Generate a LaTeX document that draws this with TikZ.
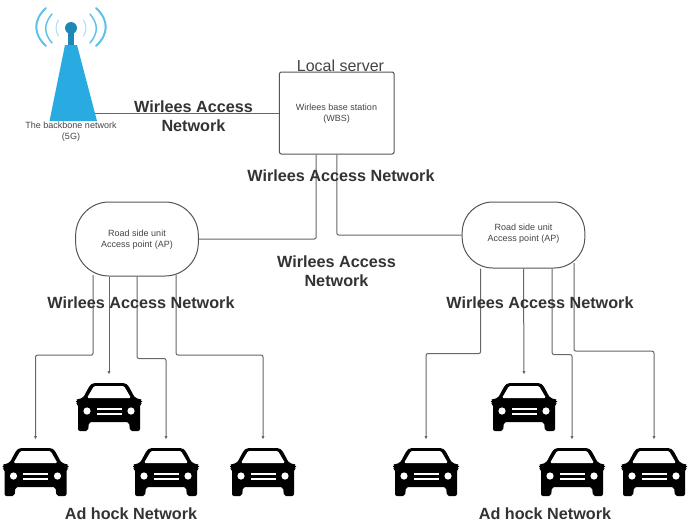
\documentclass[tikz,border=0pt]{standalone}
\usepackage{fontspec}
\setmainfont{Liberation Sans}
\usetikzlibrary{arrows.meta}
\definecolor{towerblue}{RGB}{41, 171, 226}
\definecolor{mastblue}{RGB}{31, 135, 181}
\definecolor{wavelight}{RGB}{170, 220, 243}
\definecolor{linkgray}{RGB}{102, 102, 102}
\definecolor{boxgray}{RGB}{85, 85, 85}
\definecolor{textgray}{RGB}{68, 68, 68}
\definecolor{labelgray}{RGB}{51, 51, 51}
\tikzset{
    smalltext/.style={text=textgray, align=center, inner sep=0pt, font=\fontsize{6.75}{8.3}\selectfont},
    netlabel/.style={text=labelgray, align=center, inner sep=0pt, font=\fontsize{12.15}{14.4}\selectfont\bfseries},
    apbox/.style={draw=boxgray, line width=0.75pt, fill=white, rectangle, minimum width=92pt, inner sep=0pt},
    link/.style={draw=linkgray, line width=0.75pt, rounded corners=1.5pt},
    linkto/.style={link, -{Latex[length=2.4pt,width=2.4pt]}, shorten >=6pt},
    carbox/.style={rectangle, minimum width=50pt, minimum height=36.5pt, inner sep=0pt, path picture={
        \begin{scope}[shift={(path picture bounding box.center)}]
            \fill[black, rounded corners=1.5pt] (-31,-8) -- (-26,-9) -- (-19,-22) -- (-16,-24) -- (16,-24) -- (19,-22) -- (26,-9) -- (31,-8)
                -- (33,-7) -- (33,-4) -- (31,-3) -- (31,24) -- (21,24) -- (20,15) -- (-20,15) -- (-21,24) -- (-31,24) -- (-31,-3) -- (-33,-4) -- (-33,-7) -- cycle;
            \fill[white, rounded corners=1pt] (-22,-9) -- (-15,-21) -- (15,-21) -- (22,-9) -- cycle;
            \fill[white] (-22,4) circle (3.6);
            \fill[white] (22,4) circle (3.6);
            \fill[white] (-12.5,0.5) rectangle (12.5,3);
            \fill[white] (-12.5,5.5) rectangle (12.5,8);
        \end{scope}}},
}

\begin{document}
\begin{tikzpicture}[x=0.75pt, y=-0.75pt]
    \useasboundingbox (0,0) rectangle (688,525);

    \node[draw=boxgray, line width=0.75pt, rectangle, rounded corners=1.5pt, fill=white, minimum width=86pt, minimum height=61.5pt, inner sep=0pt] (server) at (336.75,113) {};
    \node[smalltext] (servertext) at (336.5,114) {Wirlees base station\\(WBS)};
    \node[text=textgray, inner sep=0pt, font=\fontsize{12}{14}\selectfont] (serverlabel) at (340.5,66) {Local server};

    \node[apbox, rounded corners=25pt, minimum height=55.5pt] (apLeft) at (137,239) {};
    \node[apbox, rounded corners=23pt, minimum height=49.5pt] (apRight) at (523.5,235) {};
    \node[smalltext] at (137,239.5) {Road side unit\\Access point (AP)};
    \node[smalltext] at (523.5,234) {Road side unit\\Access point (AP)};

    % tower
    \fill[towerblue] (65,45) -- (77,45) -- (97,121) -- (49.5,121) -- cycle;
    \fill[mastblue] (68,30) rectangle (74,45);
    \fill[mastblue] (71,28) circle (6);
    \draw[towerblue!75!white, line width=1.5pt, line cap=round] (46,8) .. controls (33,20) and (33,34) .. (46,46);
    \draw[towerblue!75!white, line width=1.5pt, line cap=round] (96,8) .. controls (109,20) and (109,34) .. (96,46);
    \draw[towerblue!75!white, line width=1.1pt, line cap=round] (52,14) .. controls (43.6,24) and (43.6,33) .. (52,43);
    \draw[towerblue!75!white, line width=1.1pt, line cap=round] (90,14) .. controls (98.4,24) and (98.4,33) .. (90,43);
    \draw[wavelight, line width=0.75pt, line cap=round] (58.5,20) .. controls (55.2,25) and (55.2,31) .. (58.5,36);
    \draw[wavelight, line width=0.75pt, line cap=round] (83.5,20) .. controls (86.8,25) and (86.8,31) .. (83.5,36);
    \coordinate (towerfoot) at (95,113);
    \node[smalltext] (towertext) at (71,131.5) {The backbone network\\(5G)};

    \foreach \carname/\carx/\cary in {carA/35.5/472, carB/109/407, carC/166/472, carD/263/472, carE/426/472, carF/524/407, carG/572/472, carH/654/472} {
        \node[carbox] (\carname) at (\carx,\cary) {};
    }

    \draw[link] (server.west) -- (towerfoot);
    \draw[link] ([xshift=-15.4pt]server.south) |- (apLeft.east);
    \draw[link] (server.south) |- (apRight.west);

    \draw[linkto] ([xshift=-33pt,yshift=1pt]apLeft.south) -- ++(0,80) -| (carA.north);
    \draw[linkto] (apLeft.south -| carB.north) -- (carB.north);
    \draw[linkto] (apLeft.south) -- ++(0,82) -| (carC.north);
    \draw[linkto] ([xshift=29.25pt,yshift=1.5pt]apLeft.south) -- ++(0,80.5) -| (carD.north);

    \draw[linkto] ([xshift=-32.1pt]apRight.south) -- ++(0,85) -| (carE.north);
    \draw[linkto] (apRight.south) -- (carF.north);
    \draw[linkto] ([xshift=21.4pt]apRight.south) -- ++(0,86) -| (carG.north);
    \draw[linkto] ([xshift=37.9pt,yshift=4pt]apRight.south) -- ++(0,88) -| (carH.north);

    \node[netlabel] (labelA) at (193.5,116.5) {Wirlees Access\\Network};
    \node[netlabel] (labelB) at (341,176) {Wirlees Access Network};
    \node[netlabel] (labelC) at (336.5,271.5) {Wirlees Access\\Network};
    \node[netlabel] (labelD) at (141,302.5) {Wirlees Access Network};
    \node[netlabel] (labelE) at (540,302.5) {Wirlees Access Network};
    \node[netlabel] (labelF) at (131,513.5) {Ad hock Network};
    \node[netlabel] (labelG) at (545,513.5) {Ad hock Network};
\end{tikzpicture}
\end{document}
